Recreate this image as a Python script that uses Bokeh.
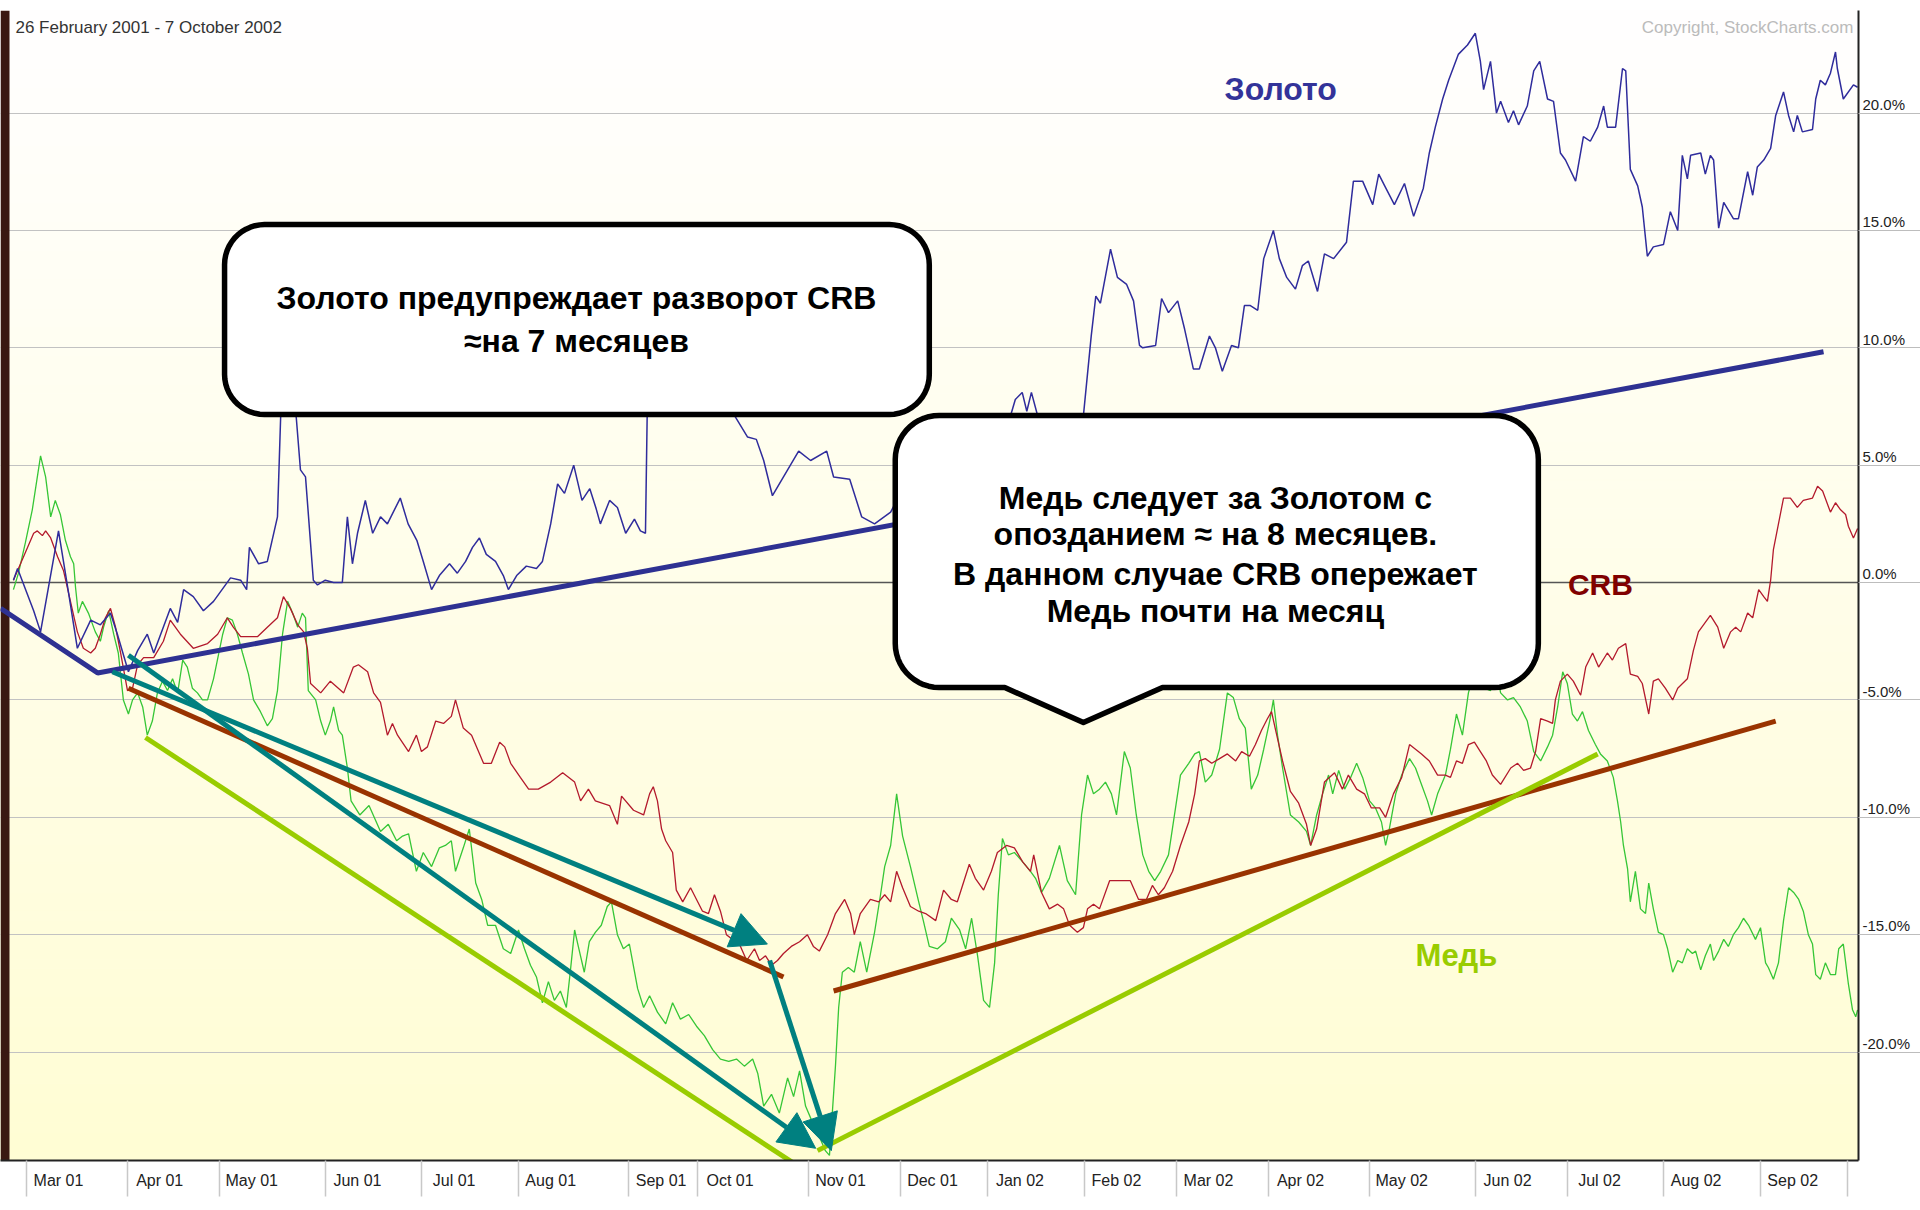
import numpy as np
from bokeh.plotting import figure
from bokeh.models import (Range1d, FixedTicker, LinearAxis, Grid, Arrow, NormalHead,
                          Span, Label, CustomJSTickFormatter, ColumnDataSource)
from bokeh.core.properties import value
from bokeh.embed import file_html
from bokeh.resources import INLINE

# ------------------------------------------------------------------ data
# x = trading-day index since 26 Feb 2001, y = % change since 26 Feb 2001
gold_day = [
    0.2, 1.1, 4.6, 6.1, 10.0, 12.0, 14.1, 17.0, 19.1, 21.3,
    22.8, 25.2, 27.2, 29.3, 30.7, 34.3, 35.9, 37.2, 39.3, 41.5,
    43.7, 47.4, 49.6, 50.9, 51.5, 53.5, 55.4, 57.6, 58.3, 59.5,
    61.0, 61.7, 62.6, 63.7, 65.4, 66.3, 68.0, 69.8, 71.7, 72.8,
    73.9, 75.0, 76.7, 78.3, 80.0, 81.5, 84.3, 86.0, 87.9, 89.3,
    91.1, 92.8, 95.0, 96.7, 98.5, 100.0, 101.5, 103.0, 105.0, 106.7,
    107.8, 109.6, 111.7, 113.9, 115.2, 117.0, 118.5, 120.0, 122.0, 123.8,
    125.5, 126.8, 127.8, 129.8, 131.5, 133.3, 135.2, 136.5, 137.6, 138.0,
    139.0, 141.0, 143.0, 145.0, 147.0, 149.0, 151.0, 153.0, 155.0, 157.0,
    159.8, 161.7, 163.3, 165.2, 170.9, 173.5, 177.0, 178.5, 182.0, 184.6,
    187.4, 190.9, 193.0, 196.0, 199.0, 202.0, 205.0, 208.0, 211.0, 214.0,
    216.5, 218.0, 219.5, 220.5, 221.5, 223.0, 226.0, 229.0, 231.0, 232.8,
    234.5, 235.5, 236.5, 238.7, 240.2, 242.2, 243.7, 245.0, 245.7, 248.5,
    249.8, 251.3, 253.3, 254.8, 256.7, 258.0, 260.2, 261.5, 263.0, 265.0,
    266.5, 267.8, 269.1, 270.7, 272.0, 274.1, 275.4, 277.0, 278.9, 280.4,
    281.7, 283.7, 285.2, 287.2, 290.0, 291.5, 293.5, 295.7, 297.0, 298.3,
    300.4, 302.6, 304.6, 306.7, 308.0, 309.3, 310.9, 312.2, 314.3, 316.3,
    318.0, 319.1, 319.8, 321.3, 322.6, 323.5, 325.2, 326.3, 327.4, 329.3,
    330.7, 332.0, 333.7, 335.0, 336.5, 337.6, 339.8, 341.5, 343.0, 344.6,
    345.9, 346.7, 348.5, 350.0, 350.7, 351.7, 353.3, 354.3, 355.4, 356.7,
    358.9, 360.4, 362.0, 363.0, 364.1, 364.8, 367.0, 368.0, 369.1, 369.8,
    370.9, 372.0, 374.1, 375.2, 377.2, 378.3, 379.3, 380.7, 382.2, 383.3,
    385.0, 386.1, 387.2, 388.0, 389.1, 391.3, 392.0, 393.0, 394.1, 395.2,
    396.3, 396.7, 398.0, 400.2, 401.1]
gold_pct = [
    0.1, 0.6, -1.2, -2.1, 2.2, -0.2, -2.8, -1.6, -1.8, -1.3,
    -2.2, -3.8, -2.9, -2.2, -3.0, -1.1, -1.7, -0.3, -0.6, -1.2,
    -0.8, 0.2, 0.1, -0.3, 1.5, 0.8, 0.9, 2.8, 7.1, 8.6,
    8.0, 7.0, 4.8, 4.5, 0.1, -0.1, 0.1, 0.0, 0.0, 2.8,
    0.8, 2.1, 3.5, 2.1, 2.8, 2.5, 3.6, 2.5, 1.8, 0.9,
    -0.3, 0.3, 0.8, 0.4, 0.9, 1.5, 1.9, 1.2, 0.9, 0.3,
    -0.3, 0.3, 0.7, 0.6, 0.9, 2.5, 4.2, 3.8, 5.0, 3.5,
    4.0, 3.2, 2.5, 3.5, 3.2, 2.1, 2.7, 2.2, 2.1, 7.5,
    9.0, 8.2, 9.5, 8.8, 9.8, 9.0, 8.5, 9.2, 8.0, 7.1,
    6.2, 6.1, 5.2, 3.7, 5.6, 5.2, 5.6, 4.5, 4.4, 2.8,
    2.5, 3.0, 3.8, 3.2, 4.5, 4.0, 5.2, 4.8, 6.0, 5.5,
    6.8, 7.8, 8.1, 7.3, 8.1, 7.0, 6.0, 5.5, 6.2, 7.1,
    10.5, 12.2, 11.9, 14.2, 13.0, 12.7, 12.0, 10.1, 10.0, 10.1,
    12.1, 11.5, 12.0, 10.8, 9.1, 9.1, 10.5, 10.0, 9.0, 10.1,
    10.0, 11.8, 11.8, 11.6, 13.8, 15.0, 13.8, 13.0, 12.5, 13.5,
    13.7, 12.4, 14.0, 13.8, 14.5, 17.1, 17.1, 16.1, 17.4, 16.9,
    16.1, 17.0, 15.6, 16.8, 18.3, 19.4, 20.6, 21.4, 22.5, 22.9,
    23.4, 22.2, 21.0, 22.2, 20.0, 20.5, 19.6, 20.1, 19.5, 20.3,
    21.8, 22.2, 20.6, 20.5, 18.3, 18.0, 17.1, 19.0, 18.8, 19.4,
    20.3, 19.4, 19.4, 21.9, 21.8, 17.6, 16.9, 16.0, 13.9, 14.3,
    14.4, 15.8, 15.0, 18.2, 17.2, 18.2, 18.3, 17.4, 18.2, 18.0,
    15.1, 16.2, 15.5, 15.5, 17.5, 16.5, 17.7, 18.0, 18.5, 19.9,
    20.9, 19.9, 19.2, 19.9, 19.2, 19.3, 20.6, 21.4, 21.2, 21.7,
    22.6, 21.9, 20.6, 21.2, 21.1]

crb_day = [
    0.2, 4.6, 5.4, 6.5, 7.2, 8.3, 9.8, 11.1, 12.6, 14.1,
    15.4, 17.0, 18.0, 19.1, 20.2, 21.3, 22.4, 23.5, 25.0, 26.1,
    27.2, 28.5, 30.7, 32.8, 34.3, 36.5, 39.3, 42.4, 44.6, 46.7,
    48.0, 49.6, 53.3, 55.4, 57.6, 58.9, 60.4, 62.0, 63.3, 64.1,
    64.8, 67.0, 69.1, 72.0, 74.1, 75.2, 77.2, 78.5, 80.0, 81.5,
    82.6, 83.7, 86.1, 87.8, 88.9, 90.2, 92.0, 93.7, 95.4, 96.3,
    98.0, 99.8, 102.4, 104.1, 105.9, 107.0, 108.3, 110.4, 112.2, 114.3,
    117.0, 119.6, 122.2, 123.5, 125.2, 126.7, 129.8, 131.5, 132.4, 135.0,
    137.2, 138.5, 139.3, 140.2, 141.1, 142.0, 143.5, 144.3, 145.7, 147.4,
    148.7, 150.0, 151.3, 152.6, 153.9, 155.2, 156.5, 157.8, 159.6, 161.3,
    162.4, 163.7, 165.0, 166.3, 167.6, 169.3, 171.1, 172.8, 174.1, 175.4,
    177.2, 178.9, 180.9, 182.2, 183.0, 184.3, 186.5, 188.3, 189.6, 190.9,
    192.2, 193.5, 195.2, 197.0, 198.5, 200.7, 202.4, 204.1, 205.4, 208.0,
    209.3, 211.1, 212.8, 214.1, 216.1, 217.8, 219.6, 221.3, 222.0, 223.7,
    225.4, 227.2, 228.5, 229.8, 231.5, 232.8, 233.7, 235.0, 236.3, 238.5,
    240.9, 243.0, 244.8, 246.5, 247.8, 249.1, 250.4, 252.2, 253.9, 255.7,
    257.0, 258.0, 259.3, 260.7, 262.4, 264.1, 265.9, 267.2, 268.9, 270.2,
    271.5, 272.8, 273.7, 274.6, 276.1, 277.8, 279.6, 281.3, 282.2, 283.5,
    285.2, 287.4, 289.1, 290.4, 292.2, 293.9, 295.4, 297.2, 298.5, 300.2,
    302.0, 303.7, 305.0, 306.3, 308.0, 309.8, 311.5, 312.6, 313.9, 315.2,
    316.5, 317.8, 319.1, 320.4, 321.7, 323.5, 325.7, 327.2, 328.5, 330.0,
    331.1, 332.2, 333.7, 334.8, 335.4, 336.5, 338.0, 339.3, 340.9, 342.0,
    343.5, 344.8, 346.7, 347.8, 349.1, 350.7, 351.7, 353.3, 354.3, 355.7,
    356.7, 357.8, 359.3, 360.9, 362.0, 364.1, 365.4, 366.5, 369.1, 370.7,
    372.0, 373.5, 374.6, 375.7, 377.2, 378.3, 379.6, 380.7, 381.5, 382.2,
    382.8, 383.9, 385.0, 386.5, 388.0, 389.3, 391.3, 392.4, 393.5, 395.2,
    396.3, 397.4, 398.5, 399.1, 400.2, 401.1]
crb_pct = [
    0.1, 2.1, 2.2, 2.0, 2.2, 1.9, 1.1, 0.5, -0.8, -2.1,
    -2.8, -3.0, -2.8, -2.2, -1.5, -1.1, -1.9, -3.0, -4.6, -4.5,
    -3.5, -3.2, -3.2, -2.5, -1.6, -2.2, -2.8, -2.6, -2.2, -1.5,
    -1.9, -2.3, -2.3, -1.9, -1.5, -0.6, -1.1, -1.8, -2.1, -2.8,
    -4.3, -4.7, -4.2, -4.7, -3.6, -3.5, -3.8, -4.7, -5.1, -6.5,
    -6.0, -6.5, -7.2, -6.5, -7.2, -7.0, -5.9, -6.0, -5.7, -5.0,
    -6.2, -6.5, -7.7, -7.7, -6.8, -7.0, -7.7, -8.3, -8.8, -8.8,
    -8.5, -8.1, -8.5, -9.3, -8.8, -9.3, -9.5, -10.3, -9.1, -9.7,
    -9.9, -9.0, -8.7, -9.3, -10.5, -11.0, -11.5, -13.1, -13.6, -13.0,
    -13.5, -14.0, -14.1, -13.3, -14.0, -15.0, -15.2, -15.3, -16.1, -15.6,
    -16.1, -15.9, -16.3, -16.1, -15.8, -15.5, -15.3, -15.0, -15.5, -15.7,
    -15.0, -14.1, -13.5, -14.1, -15.0, -14.1, -13.5, -13.6, -13.3, -13.6,
    -12.3, -13.0, -13.8, -14.0, -14.1, -14.4, -13.1, -13.5, -13.6, -12.0,
    -12.6, -13.1, -12.3, -11.5, -11.2, -11.3, -11.9, -12.3, -11.6, -13.2,
    -13.9, -13.7, -13.9, -14.6, -14.9, -14.7, -13.9, -13.7, -13.9, -12.7,
    -12.7, -12.7, -13.5, -13.5, -12.9, -13.3, -13.0, -12.3, -11.2, -10.2,
    -9.0, -7.6, -7.5, -7.7, -7.5, -7.3, -7.6, -7.2, -7.4, -6.9,
    -6.3, -5.8, -5.5, -6.3, -7.6, -8.9, -9.4, -10.3, -11.2, -10.5,
    -8.5, -8.1, -8.8, -8.2, -8.8, -9.0, -9.6, -9.6, -10.0, -9.0,
    -8.3, -6.9, -7.1, -7.3, -7.6, -8.2, -8.2, -8.3, -7.6, -7.7,
    -6.9, -6.8, -7.2, -7.6, -8.2, -8.6, -7.9, -7.7, -8.0, -7.9,
    -7.2, -5.8, -5.9, -6.0, -5.0, -4.2, -3.9, -4.2, -4.8, -3.6,
    -3.0, -3.6, -3.0, -3.3, -2.8, -2.6, -3.9, -4.0, -4.3, -5.6,
    -4.2, -4.1, -4.5, -5.0, -4.5, -4.1, -2.9, -2.1, -1.4, -1.9,
    -2.8, -2.1, -1.9, -2.1, -1.3, -1.5, -0.3, -0.6, -0.8, 0.1,
    1.4, 2.5, 3.6, 3.6, 3.2, 3.5, 3.6, 4.1, 3.9, 3.0,
    3.4, 3.1, 2.9, 2.4, 1.9, 2.3]

copper_day = [
    0.2, 1.3, 2.8, 4.3, 5.4, 6.1, 7.2, 8.3, 9.3, 10.4,
    11.5, 12.6, 13.3, 13.7, 14.3, 15.2, 16.5, 18.0, 19.1, 19.8,
    20.9, 22.0, 23.0, 24.1, 25.2, 26.1, 27.2, 28.3, 29.3, 30.4,
    31.5, 32.6, 33.7, 34.8, 35.9, 37.0, 38.0, 39.1, 40.2, 41.3,
    42.4, 43.7, 45.7, 46.7, 47.8, 48.9, 50.0, 51.3, 52.4, 53.9,
    55.4, 56.5, 57.6, 58.7, 59.8, 60.9, 62.0, 63.0, 63.7, 64.3,
    65.9, 67.0, 68.0, 69.1, 69.8, 70.9, 71.7, 72.8, 73.6, 75.5,
    77.5, 80.0, 81.7, 83.5, 84.8, 86.1, 87.8, 89.3, 91.1, 92.8,
    94.1, 95.4, 96.3, 98.0, 99.3, 100.7, 102.0, 103.3, 105.0, 106.7,
    108.3, 110.0, 111.3, 112.6, 113.9, 115.2, 116.5, 117.8, 119.1, 120.4,
    121.3, 122.2, 123.0, 124.3, 125.4, 126.7, 128.0, 129.3, 130.2, 131.5,
    132.8, 134.1, 135.9, 137.2, 138.5, 140.2, 142.0, 143.5, 145.2, 147.0,
    148.7, 150.4, 152.2, 153.9, 155.7, 157.4, 159.1, 160.9, 162.0, 163.3,
    165.0, 166.7, 168.5, 169.8, 171.1, 172.4, 173.7, 175.4, 176.7, 177.6,
    178.9, 179.6, 180.4, 181.7, 183.0, 184.3, 185.7, 187.4, 188.7, 189.6,
    190.9, 192.2, 193.5, 195.2, 197.0, 198.0, 199.3, 201.1, 202.8, 204.1,
    205.9, 207.2, 208.5, 209.8, 211.1, 212.4, 213.5, 214.3, 215.2, 216.5,
    217.8, 219.6, 221.3, 222.4, 223.7, 225.4, 227.6, 229.3, 231.1, 232.4,
    233.7, 235.0, 236.3, 237.6, 238.9, 240.0, 241.7, 243.0, 244.3, 245.7,
    247.0, 248.3, 249.6, 251.3, 252.6, 253.9, 255.7, 257.0, 258.0, 259.3,
    260.7, 262.4, 264.1, 265.4, 266.7, 268.0, 269.3, 270.7, 272.0, 273.3,
    274.1, 275.0, 276.1, 277.8, 279.6, 281.3, 282.2, 283.5, 284.8, 286.1,
    287.0, 288.3, 289.6, 290.9, 292.2, 293.5, 295.0, 296.3, 297.6, 298.5,
    299.3, 300.7, 302.0, 303.7, 305.0, 306.3, 307.6, 308.5, 309.8, 311.5,
    312.6, 313.9, 315.2, 316.5, 317.8, 319.1, 320.0, 321.3, 322.6, 323.5,
    325.0, 326.3, 327.8, 329.3, 330.7, 332.2, 333.7, 334.8, 335.9, 337.0,
    338.0, 339.1, 340.2, 341.3, 342.6, 344.1, 345.2, 346.7, 348.0, 348.9,
    349.6, 350.2, 351.1, 351.7, 352.8, 353.9, 355.0, 355.7, 356.7, 357.8,
    358.9, 359.8, 360.9, 362.0, 363.0, 364.1, 365.2, 365.9, 367.0, 368.0,
    369.1, 369.8, 370.9, 372.0, 373.0, 374.1, 375.2, 376.3, 377.4, 378.9,
    380.0, 381.1, 381.7, 382.8, 383.9, 385.0, 386.1, 387.2, 388.3, 389.3,
    390.4, 391.3, 392.0, 393.0, 394.1, 395.2, 396.3, 397.0, 398.0, 399.1,
    400.0, 400.7, 401.1]
copper_pct = [
    -0.3, 0.4, 1.7, 3.1, 4.5, 5.4, 4.5, 2.8, 3.5, 2.9,
    1.8, 1.1, 0.8, -0.2, -1.3, -0.8, -1.3, -2.1, -2.5, -1.9,
    -1.2, -2.2, -3.0, -5.0, -5.6, -5.0, -4.7, -5.3, -6.5, -5.9,
    -4.7, -4.2, -4.6, -4.1, -4.7, -3.3, -3.6, -4.5, -4.7, -5.0,
    -5.0, -4.1, -2.2, -1.5, -1.6, -2.2, -3.0, -3.9, -5.0, -5.5,
    -6.1, -5.8, -4.6, -2.2, -0.8, -1.3, -1.9, -1.3, -1.5, -4.6,
    -5.0, -5.9, -6.5, -5.9, -5.3, -6.3, -6.5, -7.9, -9.3, -9.9,
    -9.5, -10.6, -10.3, -11.0, -10.8, -10.7, -12.3, -11.5, -12.1, -11.3,
    -11.2, -11.0, -12.3, -11.3, -10.5, -12.8, -13.5, -14.6, -14.6, -15.6,
    -15.8, -14.8, -15.6, -16.3, -16.8, -17.9, -17.0, -17.8, -17.4, -18.1,
    -16.5, -14.8, -15.5, -16.6, -15.3, -14.9, -14.6, -13.8, -13.6, -15.0,
    -15.6, -15.4, -17.3, -18.1, -17.6, -18.3, -18.8, -17.9, -18.6, -18.4,
    -18.9, -19.3, -19.9, -20.3, -20.4, -20.3, -20.6, -20.3, -20.9, -22.3,
    -21.8, -22.6, -21.1, -21.9, -20.8, -22.3, -22.9, -23.6, -24.2, -24.4,
    -20.6, -18.1, -16.6, -16.4, -16.6, -15.3, -16.6, -14.9, -13.3, -12.1,
    -11.2, -9.0, -10.8, -12.1, -13.6, -14.4, -15.5, -15.6, -15.3, -14.3,
    -14.8, -15.6, -14.3, -15.9, -17.8, -18.1, -16.2, -13.3, -10.9, -11.6,
    -11.5, -11.9, -12.3, -12.6, -13.2, -12.6, -11.2, -12.7, -13.3, -9.9,
    -8.2, -9.0, -8.8, -8.5, -9.0, -9.9, -7.2, -7.9, -9.9, -11.6,
    -12.3, -12.7, -12.3, -11.6, -9.9, -8.2, -7.7, -7.3, -7.2, -8.5,
    -8.2, -7.1, -4.7, -4.9, -5.8, -6.2, -8.8, -8.2, -7.1, -5.9,
    -5.0, -6.5, -7.9, -9.9, -10.2, -10.6, -11.2, -9.9, -9.0, -8.2,
    -9.0, -8.0, -8.8, -8.3, -7.7, -8.3, -9.3, -9.6, -10.2, -11.2,
    -10.5, -9.0, -8.2, -7.5, -7.9, -8.6, -9.3, -9.9, -9.0, -8.2,
    -7.1, -5.6, -6.5, -4.7, -3.8, -3.8, -4.5, -4.6, -3.8, -4.7,
    -5.0, -4.9, -5.3, -5.9, -7.2, -7.6, -7.0, -6.5, -5.3, -3.8,
    -4.3, -5.6, -5.9, -5.5, -6.3, -6.9, -7.3, -7.6, -8.3, -9.3,
    -10.2, -11.2, -12.2, -13.6, -12.3, -13.9, -14.1, -12.8, -13.9, -14.9,
    -15.0, -15.6, -16.6, -16.1, -16.2, -15.6, -15.8, -15.7, -16.5, -15.9,
    -15.4, -16.1, -15.7, -15.2, -15.5, -15.0, -14.7, -14.3, -14.6, -15.2,
    -14.7, -16.2, -16.4, -16.9, -16.2, -14.4, -13.0, -13.2, -13.5, -14.0,
    -15.0, -15.4, -16.7, -16.9, -16.2, -16.7, -16.7, -15.6, -15.4, -17.1,
    -18.2, -18.5, -18.2]

assert len(gold_day) == len(gold_pct)
assert len(crb_day) == len(crb_pct)
assert len(copper_day) == len(copper_pct)

month_labels = ["Mar 01", "Apr 01", "May 01", "Jun 01", "Jul 01", "Aug 01", "Sep 01",
                "Oct 01", "Nov 01", "Dec 01", "Jan 02", "Feb 02", "Mar 02", "Apr 02",
                "May 02", "Jun 02", "Jul 02", "Aug 02", "Sep 02"]
month_start_day = [3, 25, 45, 68, 89, 110, 134, 149, 173, 193, 212, 233, 253, 273,
                   295, 318, 338, 359, 380, 399]
pct_ticks = [-20, -15, -10, -5, 0, 5, 10, 15, 20]

# hand-drawn trend lines (day index, %)
gold_trend_day = [-2.6, 18.5, 393.7]
gold_trend_pct = [-1.1, -3.85, 9.83]
crb_down_day = [25.2, 167.6]
crb_down_pct = [-4.5, -16.8]
crb_up_day = [178.5, 383.3]
crb_up_pct = [-17.4, -5.9]
cu_down_day = [28.9, 171.1]
cu_down_pct = [-6.6, -24.9]
cu_up_day = [175.0, 344.6]
cu_up_pct = [-24.2, -7.3]
arrow_start_day = [21.7, 25.2, 164.6]
arrow_start_pct = [-3.8, -3.1, -16.1]
arrow_end_day = [164.1, 174.6, 178.0]
arrow_end_pct = [-15.4, -24.1, -24.2]

title_text = "26 February 2001 - 7 October 2002"
copyright_text = "Copyright, StockCharts.com"
box1_lines = ["Золото предупреждает разворот CRB", "≈на 7 месяцев"]
box2_lines = ["Медь следует за Золотом с", "опозданием ≈ на 8 месяцев.",
              "В данном случае CRB опережает", "Медь почти на месяц"]

# ------------------------------------------------------------------ geometry / style
PX_X = 1846 / 401.3                  # px per trading day
X0, X1 = -12 / PX_X, 401.3           # frame starts at the page edge (slide strip)
Y0, Y1 = -24.62, 24.37
FRAME_H = 1150
PX_Y = FRAME_H / (Y1 - Y0)
STRIP_W = 9 / PX_X
FONT = "Liberation Sans"
LABEL_SHIFT_DAYS = 7
YLABEL_SHIFT = 0.37

GOLD_C, CRB_C, CU_C = "#2F2C9C", "#B3192C", "#36C636"
GOLD_T, CRB_T, CU_T, TEAL = "#2E3192", "#993300", "#99CC00", "#008080"

p = figure(width=1920, height=1208, x_range=Range1d(X0, X1), y_range=Range1d(Y0, Y1),
           output_backend="svg", toolbar_location=None,
           x_axis_location=None, y_axis_location=None,
           min_border_left=0, min_border_right=62, min_border_top=10, min_border_bottom=48,
           background_fill_color="white", border_fill_color="white",
           outline_line_color=None)
# drop any default grids
p.center = [r for r in p.center if not isinstance(r, Grid)]

# background gradient bands (white at top -> pale yellow at bottom)
n_bands = 120
edges = np.linspace(Y0, Y1, n_bands + 1)
frac = (np.arange(n_bands) + 0.5) / n_bands
band_colors = ["#%02x%02x%02x" % (255, int(253 + 2 * f), int(212 + 43 * f)) for f in frac]
p.quad(left=X0, right=X1, bottom=edges[:-1], top=edges[1:], fill_color=band_colors,
       line_color=band_colors, line_width=1, level="image")

# grid
p.add_layout(Grid(dimension=1, ticker=FixedTicker(ticks=[v for v in pct_ticks if v != 0]),
                  grid_line_color="#C2C2C2", grid_line_width=1.2))
p.add_layout(Span(location=0, dimension="width", line_color="#555555", line_width=1.6,
                  level="underlay"))

# dark slide edge on the left
p.quad(left=X0, right=X0 + STRIP_W, bottom=Y0, top=Y1, fill_color="#3A1812",
       line_color=None)

# axes
xaxis = LinearAxis(ticker=FixedTicker(ticks=[m + LABEL_SHIFT_DAYS for m in month_start_day[:-1]],
                                      minor_ticks=month_start_day))
xaxis.major_label_overrides = {m + LABEL_SHIFT_DAYS: lab
                               for m, lab in zip(month_start_day[:-1], month_labels)}
xaxis.axis_line_color = "#222222"
xaxis.axis_line_width = 2
xaxis.major_tick_out = 0
xaxis.major_tick_in = 0
xaxis.minor_tick_out = 36
xaxis.minor_tick_in = 0
xaxis.minor_tick_line_color = "#C8C8C8"
xaxis.minor_tick_line_width = 1.5
xaxis.major_label_standoff = -25
xaxis.major_label_text_font = FONT
xaxis.major_label_text_font_size = "16px"
xaxis.major_label_text_color = "#222222"
p.add_layout(xaxis, "below")

yaxis = LinearAxis(ticker=FixedTicker(ticks=[v + YLABEL_SHIFT for v in pct_ticks],
                                      minor_ticks=pct_ticks),
                   formatter=CustomJSTickFormatter(
                       code="return (tick - %s).toFixed(1) + '%%';" % YLABEL_SHIFT))
yaxis.axis_line_color = "#222222"
yaxis.axis_line_width = 2
yaxis.major_tick_out = 0
yaxis.major_tick_in = 0
yaxis.minor_tick_out = 62
yaxis.minor_tick_in = 0
yaxis.minor_tick_line_color = "#BDBDBD"
yaxis.minor_tick_line_width = 1.2
yaxis.major_label_standoff = -58
yaxis.major_label_text_font = FONT
yaxis.major_label_text_font_size = "15px"
yaxis.major_label_text_color = "#222222"
p.add_layout(yaxis, "right")

# series
p.line(copper_day, copper_pct, line_color=CU_C, line_width=1.3)
p.line(crb_day, crb_pct, line_color=CRB_C, line_width=1.3)
p.line(gold_day, gold_pct, line_color=GOLD_C, line_width=1.5)

# trend lines
p.line(gold_trend_day, gold_trend_pct, line_color=GOLD_T, line_width=5)
p.line(crb_down_day, crb_down_pct, line_color=CRB_T, line_width=5)
p.line(crb_up_day, crb_up_pct, line_color=CRB_T, line_width=5)
p.line(cu_down_day, cu_down_pct, line_color=CU_T, line_width=5)
p.line(cu_up_day, cu_up_pct, line_color=CU_T, line_width=5)

arrow_src = ColumnDataSource(dict(xs=arrow_start_day, ys=arrow_start_pct,
                                  xe=arrow_end_day, ye=arrow_end_pct))
p.add_layout(Arrow(end=NormalHead(size=36, fill_color=TEAL, line_color=TEAL, line_width=1),
                   x_start="xs", y_start="ys", x_end="xe", y_end="ye", source=arrow_src,
                   line_color=TEAL, line_width=5))


# callouts
def callout_outline(x0, x1, ybot, ytop, r_px, tail=None, n=14):
    rx, ry = r_px / PX_X, r_px / PX_Y
    xs, ys = [], []

    def arc(cx, cy, a0, a1):
        for a in np.linspace(a0, a1, n):
            xs.append(cx + rx * np.cos(a))
            ys.append(cy + ry * np.sin(a))

    arc(x0 + rx, ytop - ry, np.pi, np.pi / 2)
    arc(x1 - rx, ytop - ry, np.pi / 2, 0)
    arc(x1 - rx, ybot + ry, 0, -np.pi / 2)
    if tail is not None:
        tl, tr, tx, ty = tail
        xs += [tr, tx, tl]
        ys += [ybot, ty, ybot]
    arc(x0 + rx, ybot + ry, -np.pi / 2, -np.pi)
    return xs, ys


bx1, by1 = callout_outline(46.1, 199.3, 7.16, 15.25, 40)
p.patch(bx1, by1, fill_color="white", line_color="black", line_width=5.5, line_join="round")
bx2, by2 = callout_outline(191.9, 331.7, -4.47, 7.12, 44, tail=(215.7, 250.0, 232.8, -5.96))
p.patch(bx2, by2, fill_color="white", line_color="black", line_width=5.5, line_join="round")

txt = dict(text_font=value(FONT), text_font_style="bold", text_font_size="32px",
           text_align="center", text_baseline="middle", text_color="black")
p.text(x=[122.6, 122.6], y=[12.14, 10.31], text=box1_lines, **txt)
p.text(x=[261.5] * 4, y=[3.62, 2.09, 0.38, -1.19], text=box2_lines, **txt)

# series names
name = dict(text_font=value(FONT), text_font_style="bold",
            text_align="center", text_baseline="middle")
p.text(x=[275.7], y=[21.04], text=["Золото"], text_color="#333399", text_font_size="32px", **name)
p.text(x=[345.2], y=[-0.09], text=["CRB"], text_color="#800000", text_font_size="30px", **name)
p.text(x=[313.9], y=[-15.89], text=["Медь"], text_color="#99CC00", text_font_size="31px", **name)

# header texts
p.add_layout(Label(x=0.65, y=23.64, text=title_text, text_font=FONT, text_font_size="17px",
                   text_color="#333333", text_baseline="middle"))
p.add_layout(Label(x=400.2, y=23.64, text=copyright_text, text_font=FONT,
                   text_font_size="17px", text_color="#BBBBBB", text_baseline="middle",
                   text_align="right"))

open("out.html", "w").write(file_html(p, INLINE))
